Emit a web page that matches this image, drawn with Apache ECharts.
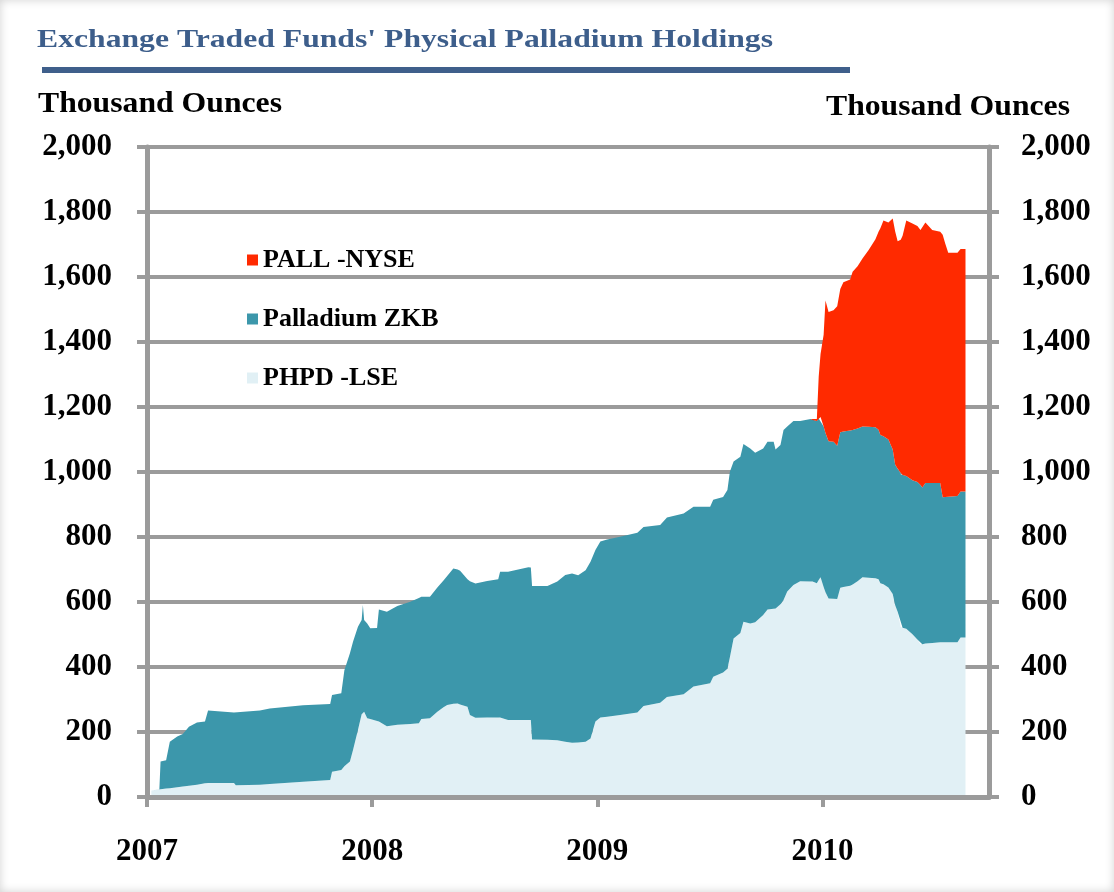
<!DOCTYPE html>
<html>
<head>
<meta charset="utf-8">
<title>ETF Physical Palladium Holdings</title>
<script src="https://cdn.jsdelivr.net/npm/echarts@6/dist/echarts.min.js"></script>
<style>
    html, body { margin: 0; padding: 0; background: #fff; }
    #chart { width: 1114px; height: 892px; box-shadow: inset 0 0 10px rgba(0, 0, 0, 0.18); }
</style>
</head>
<body>
<div id="chart"></div>
<script>

// holdings, thousand ounces
var dates = [
    '2007-01-08', '2007-01-21', '2007-01-23', '2007-02-01', '2007-02-07', '2007-02-19', '2007-02-28', '2007-03-10',
    '2007-03-23', '2007-04-05', '2007-04-10', '2007-05-22', '2007-05-25', '2007-07-03', '2007-07-19', '2007-09-11',
    '2007-10-25', '2007-10-28', '2007-11-12', '2007-11-17', '2007-11-26', '2007-12-01', '2007-12-09', '2007-12-15',
    '2007-12-17', '2007-12-19', '2007-12-24', '2007-12-29',
    '2008-01-09', '2008-01-12', '2008-01-25', '2008-02-11', '2008-03-03', '2008-03-17', '2008-03-21', '2008-04-04',
    '2008-04-16', '2008-04-26', '2008-05-02', '2008-05-12', '2008-05-19', '2008-05-23', '2008-06-04', '2008-06-08',
    '2008-06-17', '2008-07-06', '2008-07-24', '2008-07-27', '2008-08-09', '2008-09-11', '2008-09-15', '2008-09-17',
    '2008-10-12', '2008-10-28', '2008-11-10', '2008-11-21', '2008-12-01', '2008-12-13', '2008-12-21', '2008-12-29',
    '2009-01-06', '2009-01-17', '2009-02-07', '2009-03-07', '2009-03-17', '2009-04-13', '2009-04-24', '2009-05-21',
    '2009-06-06', '2009-07-03', '2009-07-08', '2009-07-24', '2009-07-31', '2009-08-04', '2009-08-10', '2009-08-21',
    '2009-08-26', '2009-09-06', '2009-09-14', '2009-09-27', '2009-10-04', '2009-10-14', '2009-10-17', '2009-10-25',
    '2009-10-30', '2009-11-05', '2009-11-15', '2009-11-26', '2009-12-13', '2009-12-16', '2009-12-23', '2009-12-26',
    '2009-12-29',
    '2010-01-03', '2010-01-06', '2010-01-11', '2010-01-19', '2010-01-25', '2010-01-30', '2010-02-04', '2010-02-15',
    '2010-02-19', '2010-02-27', '2010-03-07', '2010-03-17', '2010-03-28', '2010-04-02', '2010-04-05', '2010-04-10',
    '2010-04-18', '2010-04-25', '2010-04-29', '2010-05-03', '2010-05-08', '2010-05-11', '2010-05-17', '2010-05-27',
    '2010-06-04', '2010-06-09', '2010-06-12', '2010-06-17', '2010-06-28', '2010-07-11', '2010-07-15', '2010-07-19',
    '2010-07-24', '2010-08-08', '2010-08-13', '2010-08-21'
];

var phpd = [
    20, 23, 24, 26, 27, 30, 32, 35, 38, 42, 43, 43, 36, 38, 40, 47,
    52, 78, 83, 95, 109, 145, 206, 255, 268, 262, 242, 240,
    235, 232, 218, 222, 225, 227, 240, 242, 262, 276, 283, 287, 288, 285, 278, 252,
    244, 245, 246, 245, 237, 237, 237, 177, 176, 175, 170, 167, 168, 170, 180, 232,
    245, 247, 252, 260, 280, 290, 308, 316, 340, 350, 370, 383, 395, 430, 488, 505,
    539, 534, 538, 560, 577, 579, 580, 593, 606, 632, 652, 664, 664, 663, 658, 668, 676,
    646, 630, 611, 610, 609, 644, 646, 650, 654, 664, 676, 675, 673, 670, 658, 655,
    645, 625, 590, 570, 523, 521, 518, 501, 485, 470, 470, 472, 474, 476, 476, 476,
    476, 476, 491, 491
];

var zkb = [
    0, 0, 85, 87, 143, 156, 162, 181, 191, 190, 223, 217, 223, 228, 232, 235,
    234, 236, 236, 295, 333, 333, 318, 290, 323, 283, 292, 279,
    285, 345, 352, 366, 376, 385, 376, 374, 383, 390, 397, 416, 412, 411, 392, 412,
    413, 420, 424, 448, 456, 470, 469, 472, 473, 488, 513, 521, 514, 528, 544, 528,
    541, 545, 549, 553, 551, 547, 552, 556, 553, 543, 545, 540, 550, 571, 544, 542,
    547, 538, 521, 512, 516, 514, 489, 490, 523, 508, 505, 493, 499, 497, 499, 497, 493,
    494, 490, 484, 483, 472, 478, 479, 478, 475, 470, 464, 464, 465, 460, 456, 455,
    455, 444, 432, 440, 470, 470, 470, 474, 484, 490, 482, 494, 492, 490, 446, 447,
    448, 450, 449, 449
];

// PALL only trades from December 2009
var pallStart = '2009-12-13';
var pall = [
    0, 8, 6, 128, 194, 282, 408, 397, 405, 429, 441, 459, 464, 487, 499, 517,
    544, 578, 609, 636, 664, 668, 711, 718, 700, 722, 736, 786, 790, 788, 785, 787,
    802, 779, 773, 808, 781, 751, 749, 746, 746
];

var seriesNames = ['PALL -NYSE', 'Palladium ZKB', 'PHPD -LSE'];
var yearTicks = [2007, 2008, 2009, 2010];

var FONT = "'Liberation Serif', 'Times New Roman', serif";
var GREY = '#9b9b9b';

// date string -> fractional year for the value x axis
function toYear(d) {
    var y = +d.slice(0, 4), m = +d.slice(5, 7), day = +d.slice(8, 10);
    var start = Date.UTC(y, 0, 1), end = Date.UTC(y + 1, 0, 1);
    return y + (Date.UTC(y, m - 1, day) - start) / (end - start);
}

function withComma(v) {
    return String(v).replace(/\B(?=(\d{3})+(?!\d))/g, ',');
}

// stretch a text to the width it has in the original
function fitScale(text, size, width) {
    var ctx = document.createElement('canvas').getContext('2d');
    ctx.font = 'bold ' + size + 'px ' + FONT;
    return width / ctx.measureText(text).width;
}

function areaSeries(name, color, values, offset) {
    return {
        name: name,
        type: 'line',
        stack: 'holdings',
        // holdings first, date second: the stack then sums the holdings
        encode: { x: 1, y: 0 },
        symbol: 'none',
        lineStyle: { width: 0, color: color },
        itemStyle: { color: color },
        areaStyle: { color: color, opacity: 1 },
        data: dates.map(function (d, i) {
            var v = values[i - offset];
            return [v === undefined ? null : v, toYear(d)];
        })
    };
}

var titleText = "Exchange Traded Funds' Physical Palladium Holdings";
var unitText = 'Thousand Ounces';

var chart = echarts.init(document.getElementById('chart'));

var valueAxis = function (side, margin) {
    return {
        type: 'value',
        position: side,
        min: 0,
        max: 2000,
        interval: 200,
        axisLine: { show: true, lineStyle: { color: GREY, width: 5 } },
        axisTick: { show: true, length: 10, lineStyle: { color: GREY, width: 4 } },
        splitLine: { show: side === 'left', lineStyle: { color: GREY, width: 4 } },
        axisLabel: {
            margin: margin,
            color: '#000',
            fontFamily: FONT,
            fontWeight: 'bold',
            fontSize: 31,
            formatter: withComma
        }
    };
};

var option = {
    animation: false,
    backgroundColor: 'transparent',
    grid: { left: 147, right: 125, top: 147, bottom: 95 },
    legend: {
        orient: 'vertical',
        left: 247,
        top: 247,
        padding: 0,
        icon: 'rect',
        itemWidth: 11,
        itemHeight: 11,
        itemGap: 33,
        data: seriesNames,
        textStyle: { color: '#000', fontFamily: FONT, fontWeight: 'bold', fontSize: 26, lineHeight: 24 }
    },
    xAxis: {
        type: 'value',
        min: 2007,
        max: 2010.74,
        interval: 1,
        z: 5,
        axisLine: { lineStyle: { color: GREY, width: 5 } },
        axisTick: { show: true, length: 10, customValues: yearTicks, lineStyle: { color: GREY, width: 4 } },
        splitLine: { show: false },
        axisLabel: {
            customValues: yearTicks,
            margin: 39,
            color: '#000',
            fontFamily: FONT,
            fontWeight: 'bold',
            fontSize: 31,
            formatter: function (v) { return String(Math.round(v)); }
        }
    },
    yAxis: [valueAxis('left', 35), valueAxis('right', 32)],
    graphic: [
        {
            type: 'text', x: 37, y: 40, scaleX: fitScale(titleText, 26, 736),
            style: { text: titleText, fill: '#3d5e8b', font: 'bold 26px ' + FONT, verticalAlign: 'middle' }
        },
        {
            type: 'rect', shape: { x: 42, y: 67, width: 808, height: 6 },
            style: { fill: '#3f5f8b' }
        },
        {
            type: 'text', x: 38, y: 105, scaleX: fitScale(unitText, 29, 244),
            style: { text: unitText, fill: '#000', font: 'bold 29px ' + FONT, verticalAlign: 'middle' }
        },
        {
            type: 'text', x: 826, y: 108, scaleX: fitScale(unitText, 29, 244),
            style: { text: unitText, fill: '#000', font: 'bold 29px ' + FONT, verticalAlign: 'middle' }
        }
    ],
    series: [
        areaSeries('PHPD -LSE', '#e1f0f5', phpd, 0),
        areaSeries('Palladium ZKB', '#3c97ab', zkb, 0),
        areaSeries('PALL -NYSE', '#ff2a00', pall, dates.indexOf(pallStart))
    ]
};

chart.setOption(option);
</script>
</body>
</html>
